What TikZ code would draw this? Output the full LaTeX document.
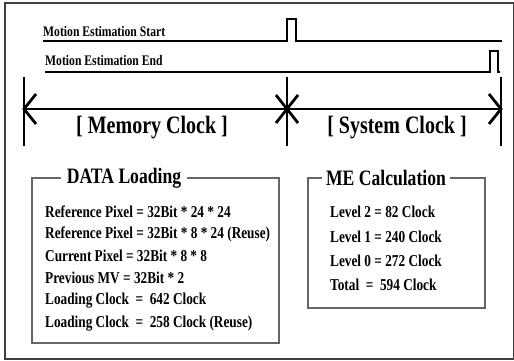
\documentclass[tikz,border=0pt]{standalone}
\usepackage{fontspec}
\setmainfont{Liberation Serif}[FakeStretch=0.8]
\tikzset{
  sig/.style={line width=1.3pt, line join=miter},
  bar/.style={line width=2.8pt},
  span/.style={line width=2.8pt},
  barb/.style={line width=2.8pt, line join=miter, miter limit=3},
  siglabel/.style={anchor=west, inner sep=0pt, font=\bfseries\fontsize{14.6}{14.6}\selectfont},
  clocklabel/.style={inner sep=0pt, font=\bfseries\fontsize{25}{25}\selectfont},
  grp/.style={draw=black!60, line width=1.6pt},
  grptitle/.style={fill=white, inner ysep=1pt, inner xsep=6pt, font=\bfseries\fontsize{22}{22}\selectfont},
  item/.style={anchor=west, inner sep=0pt, font=\bfseries\fontsize{16.6}{16.6}\selectfont},
  frame/.style={draw=black!75, line width=1.5pt}
}
\begin{document}
\begin{tikzpicture}[x=1pt,y=-1pt]
\useasboundingbox (0,0) rectangle (514,361);
\draw[frame] (5,3) rectangle (513.5,359);

% signals
\node[siglabel] (lstart) at (43,32) {Motion Estimation Start};
\node[siglabel] (lend) at (45,61) {Motion Estimation End};
\coordinate (s0) at (43,41);
\coordinate (s1) at (502,41);
\coordinate (e0) at (45,72);
\coordinate (e1) at (500,72);
\draw[sig] (s0) -- (287,41) -- (287,19) -- (296,19) -- (296,41) -- (s1);
\draw[sig] (e0) -- (490,72) -- (490,51) -- (498,51) -- (498,72) -- (e1);

% clock bars
\coordinate (b1t) at (24,77);  \coordinate (b1b) at (24,146);
\coordinate (b2t) at (287,77); \coordinate (b2b) at (287,146);
\coordinate (b3t) at (501,77); \coordinate (b3b) at (501,146);
\draw[bar] (b1t) -- (b1b);
\draw[bar] (b2t) -- (b2b);
\draw[bar] (b3t) -- (b3b);
\coordinate (a1) at (24,109);
\coordinate (a2) at (287,109);
\coordinate (a3) at (501,109);
\draw[span] (a1) -- (a2) -- (a3);
% arrow barbs
\draw[barb] ([shift={(12,-15)}]a1) -- (a1) -- ([shift={(12,15)}]a1);
\draw[barb] ([shift={(-11,-14)}]a2) -- (a2) -- ([shift={(-11,14)}]a2);
\draw[barb] ([shift={(11,-14)}]a2) -- (a2) -- ([shift={(11,14)}]a2);
\draw[barb] ([shift={(-12,-15)}]a3) -- (a3) -- ([shift={(-12,15)}]a3);
\node[clocklabel] (mem) at (152,128) {[ Memory Clock ]};
\node[clocklabel] (sys) at (397,128) {[ System Clock ]};

% DATA Loading box
\draw[grp] (32,178) rectangle (279,343);
\node[grptitle] (dlt) at (124,178) {DATA Loading};
\node[item] (d1) at (45,212) {Reference Pixel = 32Bit * 24 * 24};
\node[item] (d2) at (45,234) {Reference Pixel = 32Bit * 8 * 24 (Reuse)};
\node[item] (d3) at (45,256) {Current Pixel = 32Bit * 8 * 8};
\node[item] (d4) at (45,278) {Previous MV = 32Bit * 2};
\node[item] (d5) at (45,301) {Loading Clock \ =\ \ 642 Clock};
\node[item] (d6) at (45,324) {Loading Clock \ =\ \ 258 Clock (Reuse)};

% ME Calculation box
\draw[grp] (308,178) rectangle (485,308);
\node[grptitle, inner xsep=4pt] (mct) at (386,178) {ME Calculation};
\node[item] (m1) at (330,212) {Level 2 = 82 Clock};
\node[item] (m2) at (330,237) {Level 1 = 240 Clock};
\node[item] (m3) at (330,261) {Level 0 = 272 Clock};
\node[item] (m4) at (330,285) {Total \ =\ \ 594 Clock};
\end{tikzpicture}
\end{document}
